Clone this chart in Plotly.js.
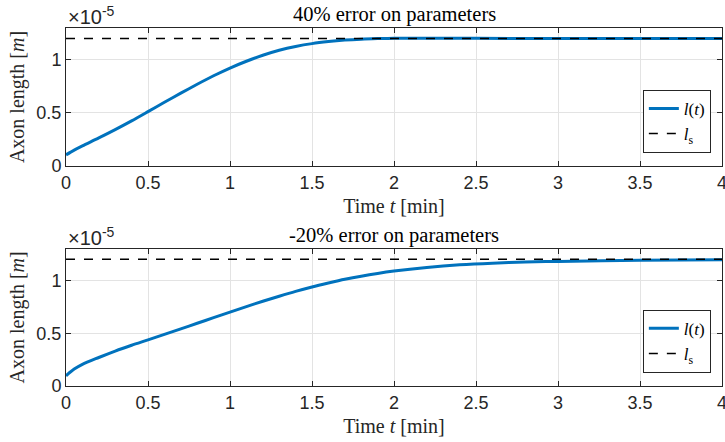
<!DOCTYPE html>
<html><head><meta charset="utf-8">
<script src="https://cdn.plot.ly/plotly-3.0.1.min.js"></script>
<style>html,body{margin:0;padding:0;background:#fff}#chart{width:725px;height:442px}</style>
</head><body><div id="chart"></div>
<script>
// Axon length values in units of 1e-5 m
const timeTop = [0,0.05,0.1,0.2,0.3,0.4,0.5,0.6,0.7,0.8,0.9,1.0,1.1,1.2,1.3,1.4,1.5,1.6,1.7,1.8,1.9,2.0,2.25,2.5,3.0,3.5,4.0];
const lengthTop = [0.105,0.15,0.19,0.265,0.343,0.425,0.512,0.6,0.686,0.77,0.85,0.923,0.987,1.043,1.09,1.126,1.153,1.172,1.186,1.195,1.2,1.203,1.204,1.203,1.201,1.2,1.2];
const timeBottom = [0,0.05,0.1,0.2,0.3,0.4,0.5,0.6,0.7,0.8,0.9,1.0,1.1,1.2,1.3,1.4,1.5,1.6,1.7,1.8,1.9,2.0,2.2,2.4,2.6,2.8,3.0,3.5,4.0];
const lengthBottom = [0.097,0.16,0.205,0.27,0.331,0.386,0.437,0.489,0.541,0.594,0.647,0.70,0.752,0.802,0.85,0.896,0.938,0.975,1.01,1.04,1.066,1.088,1.122,1.147,1.163,1.173,1.18,1.19,1.195];
const steadyTime = [0,4];
const steadyLength = [1.2,1.2];
const xTicks = [0,0.5,1,1.5,2,2.5,3,3.5,4];
const xTickText = ['0','0.5','1','1.5','2','2.5','3','3.5','4'];
const yTicks = [0,0.5,1];
const yTickText = ['0','0.5','1'];
const titles = ['40% error on parameters','-20% error on parameters'];

const serif = 'Liberation Serif';
const sans = 'Liberation Sans';
const blue = '#0072BD';

const traces = [
  {x: timeTop, y: lengthTop, mode:'lines', line:{color:blue,width:3,shape:'spline',smoothing:0.8}, name:'<i>l</i>(<i>t</i>)', xaxis:'x', yaxis:'y', legend:'legend'},
  {x: steadyTime, y: steadyLength, mode:'lines', line:{color:'#000',width:1.5,dash:'dash'}, name:'<i>l</i><sub>s</sub>', xaxis:'x', yaxis:'y', legend:'legend'},
  {x: timeBottom, y: lengthBottom, mode:'lines', line:{color:blue,width:3,shape:'spline',smoothing:0.8}, name:'<i>l</i>(<i>t</i>)', xaxis:'x2', yaxis:'y2', legend:'legend2'},
  {x: steadyTime, y: steadyLength, mode:'lines', line:{color:'#000',width:1.5,dash:'dash'}, name:'<i>l</i><sub>s</sub>', xaxis:'x2', yaxis:'y2', legend:'legend2'}
];

function xax(anchor) {
  return {range:[0,4], domain:[0,1], tickvals:xTicks, ticktext:xTickText, anchor:anchor, ticklabeloverflow:'allow',
    showline:true, linecolor:'#262626', linewidth:1, mirror:'ticks', ticks:'inside', ticklen:5, tickcolor:'#262626',
    showgrid:true, gridcolor:'#e3e3e3', zeroline:false, tickfont:{family:sans,size:18,color:'#262626'},
    title:{text:'Time <i>t</i> [min]', font:{family:serif,size:20,color:'#262626'}, standoff:7}};
}
function yax(anchor, domain) {
  return {range:[0,1.3], domain:domain, tickvals:yTicks, ticktext:yTickText, anchor:anchor,
    showline:true, linecolor:'#262626', linewidth:1, mirror:'ticks', ticks:'inside', ticklen:5, tickcolor:'#262626',
    showgrid:true, gridcolor:'#e3e3e3', zeroline:false, tickfont:{family:sans,size:18,color:'#262626'},
    title:{text:'Axon length [<i>m</i>]', font:{family:serif,size:20,color:'#262626'}, standoff:6}};
}
function legendAt(y) {
  return {x:0.983, y:y, xanchor:'right', yanchor:'bottom', bgcolor:'#fff', bordercolor:'#262626', borderwidth:1,
    font:{family:serif,size:17,color:'#000'}, tracegroupgap:0, itemwidth:30};
}

const layout = {
  width:725, height:442,
  margin:{l:66,r:3,t:28,b:56},
  font:{family:serif, color:'#000'},
  paper_bgcolor:'#fff', plot_bgcolor:'#fff',
  showlegend:true,
  xaxis: xax('y'),
  yaxis: yax('x',[0.6145,1]),
  xaxis2: xax('y2'),
  yaxis2: yax('x2',[0,0.3835]),
  legend: legendAt(0.651),
  legend2: legendAt(0.037),
  annotations:[
    {text:titles[0], xref:'paper', yref:'paper', x:0.5, y:1, yanchor:'bottom', yshift:0, showarrow:false, font:{family:serif,size:20.5,color:'#000'}},
    {text:titles[1], xref:'paper', yref:'paper', x:0.5, y:0.3835, yanchor:'bottom', yshift:0, showarrow:false, font:{family:serif,size:20.5,color:'#000'}},
    {text:'×10<sup>-5</sup>', xref:'paper', yref:'paper', x:0, y:1, xanchor:'left', yanchor:'bottom', yshift:-2, showarrow:false, font:{family:sans,size:20,color:'#262626'}},
    {text:'×10<sup>-5</sup>', xref:'paper', yref:'paper', x:0, y:0.3835, xanchor:'left', yanchor:'bottom', yshift:-2, showarrow:false, font:{family:sans,size:20,color:'#262626'}}
  ]
};
Plotly.newPlot('chart', traces, layout, {staticPlot:true, displayModeBar:false});
</script></body></html>
